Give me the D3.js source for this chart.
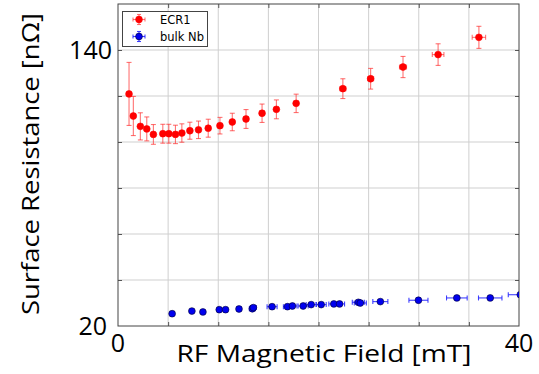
<!DOCTYPE html>
<html>
<head>
<meta charset="utf-8">
<script src="https://cdn.jsdelivr.net/npm/d3@7"></script>
<style>
  body { margin: 0; background: #fff; }
  svg { display: block; }
</style>
</head>
<body>
<svg id="chart" width="539" height="374"></svg>
<script>
// ECR1 series
var ecrField = [1.1, 1.53, 2.23, 2.87, 3.53, 4.47, 5.07, 5.73, 6.37, 7.17, 8.03, 9.0,
    10.17, 11.4, 12.77, 14.37, 15.8, 17.77, 22.43, 25.2, 28.43, 31.93, 36.0];
var ecrRs = [120.9, 111.3, 106.8, 105.7, 103.3, 103.6, 103.6, 103.3, 103.9, 104.9, 105.3, 106.0,
    107.1, 108.7, 110.0, 112.5, 114.2, 116.8, 123.2, 127.5, 132.6, 138.0, 145.5];
var ecrRsErr = [13.7, 8.5, 5.9, 5.2, 4.3, 4.1, 4.1, 4.0, 4.0, 3.7, 3.8, 3.9,
    3.6, 3.8, 4.1, 4.0, 4.1, 4.0, 4.3, 4.5, 4.6, 4.7, 4.8];
var ecrFieldErr = [0.05, 0.05, 0.05, 0.05, 0.1, 0.1, 0.1, 0.1, 0.1, 0.1, 0.15, 0.15,
    0.15, 0.15, 0.2, 0.2, 0.2, 0.2, 0.3, 0.3, 0.35, 0.58, 0.67];

// bulk Nb series
var nbField = [5.4, 7.37, 8.47, 10.1, 10.73, 12.07, 13.4, 13.5, 15.37, 16.9, 17.4, 18.47,
    19.27, 20.27, 21.53, 22.1, 23.97, 24.17, 26.17, 29.97, 33.8, 37.13, 40.13];
var nbRs = [25.35, 26.5, 26.1, 27.1, 27.1, 27.4, 27.5, 28.0, 28.4, 28.4, 28.7, 28.7,
    29.3, 29.3, 29.6, 29.6, 30.3, 30.0, 30.6, 31.2, 32.2, 32.2, 33.6];
var nbRsErr = [0.2, 0.2, 0.2, 0.2, 0.2, 0.2, 0.2, 0.2, 0.2, 0.2, 0.2, 0.2,
    0.2, 0.2, 0.2, 0.2, 0.3, 0.3, 0.3, 0.3, 0.3, 0.3, 0.3];
var nbFieldErr = [0.05, 0.1, 0.1, 0.15, 0.15, 0.2, 0.3, 0.3, 0.5, 0.4, 0.45, 0.5,
    0.5, 0.5, 0.5, 0.5, 0.6, 0.6, 0.75, 0.95, 1.03, 1.17, 1.2];

var xGrid = [5, 10, 15, 20, 25, 30, 35];
var yGrid = [40, 60, 80, 100, 120, 140];
var xLabels = [0, 40];
var yLabels = [20, 140];

var svg = d3.select("#chart");
var plotLeft = 118, plotRight = 519, plotTop = 4, plotBottom = 326;

var x = d3.scaleLinear().domain([0, 40]).range([plotLeft, plotRight]);
var y = d3.scaleLinear().domain([20, 160]).range([plotBottom, plotTop]);

var font = "'Open Sans', sans-serif";

// grid
svg.append("g").selectAll("line").data(xGrid).enter().append("line")
    .attr("x1", function (d) { return x(d); }).attr("x2", function (d) { return x(d); })
    .attr("y1", plotTop).attr("y2", plotBottom)
    .attr("stroke", "#cfcfcf").attr("stroke-width", 1);
svg.append("g").selectAll("line").data(yGrid).enter().append("line")
    .attr("y1", function (d) { return y(d); }).attr("y2", function (d) { return y(d); })
    .attr("x1", plotLeft).attr("x2", plotRight)
    .attr("stroke", "#cfcfcf").attr("stroke-width", 1);

// inward ticks on all four sides
var axes = [
    d3.axisLeft(y).tickValues(yGrid).tickSize(-4).tickFormat(""),
    d3.axisRight(y).tickValues(yGrid).tickSize(-4).tickFormat(""),
    d3.axisBottom(x).tickValues(xGrid).tickSize(-4).tickFormat(""),
    d3.axisTop(x).tickValues(xGrid).tickSize(-4).tickFormat("")
];
var offsets = ["translate(" + plotLeft + ",0)", "translate(" + plotRight + ",0)",
    "translate(0," + plotBottom + ")", "translate(0," + plotTop + ")"];
axes.forEach(function (a, i) {
    var g = svg.append("g").attr("transform", offsets[i]).call(a);
    g.select(".domain").remove();
    g.selectAll(".tick line").attr("stroke", "#555");
});

// frame
svg.append("rect")
    .attr("x", plotLeft).attr("y", plotTop)
    .attr("width", plotRight - plotLeft).attr("height", plotBottom - plotTop)
    .attr("fill", "none").attr("stroke", "#444").attr("stroke-width", 1);

svg.append("clipPath").attr("id", "plotclip")
    .append("rect").attr("x", plotLeft).attr("y", plotTop)
    .attr("width", plotRight - plotLeft).attr("height", plotBottom - plotTop);

function drawSeries(xs, ys, xe, ye, barColor, fill, edge) {
    var g = svg.append("g").attr("clip-path", "url(#plotclip)");
    var cap = 2.5;
    xs.forEach(function (xv, i) {
        var cx = x(xv), cy = y(ys[i]);
        var y0 = y(ys[i] - ye[i]), y1 = y(ys[i] + ye[i]);
        var x0 = x(xv - xe[i]), x1 = x(xv + xe[i]);
        var segs = [
            [cx, y0, cx, y1], [cx - cap, y0, cx + cap, y0], [cx - cap, y1, cx + cap, y1],
            [x0, cy, x1, cy], [x0, cy - cap, x0, cy + cap], [x1, cy - cap, x1, cy + cap]
        ];
        segs.forEach(function (s) {
            g.append("line").attr("x1", s[0]).attr("y1", s[1]).attr("x2", s[2]).attr("y2", s[3])
                .attr("stroke", barColor).attr("stroke-width", 1.1);
        });
    });
    g.selectAll("circle").data(xs).enter().append("circle")
        .attr("cx", function (d) { return x(d); })
        .attr("cy", function (d, i) { return y(ys[i]); })
        .attr("r", 3.4)
        .attr("fill", fill)
        .attr("stroke", edge).attr("stroke-width", 0.6);
}

drawSeries(ecrField, ecrRs, ecrFieldErr, ecrRsErr, "rgba(255,40,40,0.65)", "#ff0000", "#ff0000");
drawSeries(nbField, nbRs, nbFieldErr, nbRsErr, "rgba(30,30,255,0.85)", "#0000ee", "#000033");

// tick labels
svg.selectAll(".ylab").data(yLabels).enter().append("text")
    .attr("x", function (d) { return d === 20 ? 107 : 112; })
    .attr("y", function (d) { return y(d); })
    .attr("dy", "0.35em").attr("text-anchor", "end")
    .attr("font-family", font).attr("font-size", 25).attr("fill", "#000")
    .text(function (d) { return d; });
svg.selectAll(".xlab").data(xLabels).enter().append("text")
    .attr("x", function (d) { return x(d); }).attr("y", 352)
    .attr("text-anchor", "middle")
    .attr("font-family", font).attr("font-size", 25).attr("fill", "#000")
    .text(function (d) { return d; });

// axis titles
svg.append("text")
    .attr("x", 324).attr("y", 362)
    .attr("text-anchor", "middle")
    .attr("font-family", font).attr("font-size", 24)
    .attr("textLength", 295).attr("lengthAdjust", "spacingAndGlyphs")
    .attr("fill", "#000")
    .text("RF Magnetic Field [mT]");
svg.append("text")
    .attr("transform", "translate(39,164) rotate(-90)")
    .attr("text-anchor", "middle")
    .attr("font-family", font).attr("font-size", 24)
    .attr("textLength", 302).attr("lengthAdjust", "spacingAndGlyphs")
    .attr("fill", "#000")
    .text("Surface Resistance [nΩ]");

// legend
var legend = svg.append("g");
legend.append("rect")
    .attr("x", 122.5).attr("y", 11.5).attr("width", 85).attr("height", 35)
    .attr("fill", "#fff").attr("stroke", "#444").attr("stroke-width", 1);
var legendItems = [
    { label: "ECR1", bar: "rgba(255,40,40,0.65)", fill: "#ff0000", edge: "#ff0000" },
    { label: "bulk Nb", bar: "rgba(30,30,255,0.85)", fill: "#0000ee", edge: "#000033" }
];
legendItems.forEach(function (d, i) {
    var cx = 139, cy = 19.5 + i * 17;
    var segs = [[cx, cy - 5, cx, cy + 5], [cx - 2, cy - 5, cx + 2, cy - 5], [cx - 2, cy + 5, cx + 2, cy + 5],
        [cx - 6, cy, cx + 6, cy], [cx - 6, cy - 2, cx - 6, cy + 2], [cx + 6, cy - 2, cx + 6, cy + 2]];
    segs.forEach(function (s) {
        legend.append("line").attr("x1", s[0]).attr("y1", s[1]).attr("x2", s[2]).attr("y2", s[3])
            .attr("stroke", d.bar).attr("stroke-width", 1.1);
    });
    legend.append("circle").attr("cx", cx).attr("cy", cy).attr("r", 3.4)
        .attr("fill", d.fill).attr("stroke", d.edge).attr("stroke-width", 0.6);
    legend.append("text").attr("x", 160).attr("y", cy).attr("dy", "0.35em")
        .attr("font-family", "'DejaVu Sans', sans-serif").attr("font-size", 11.5).attr("fill", "#000")
        .text(d.label);
});
</script>
</body>
</html>
